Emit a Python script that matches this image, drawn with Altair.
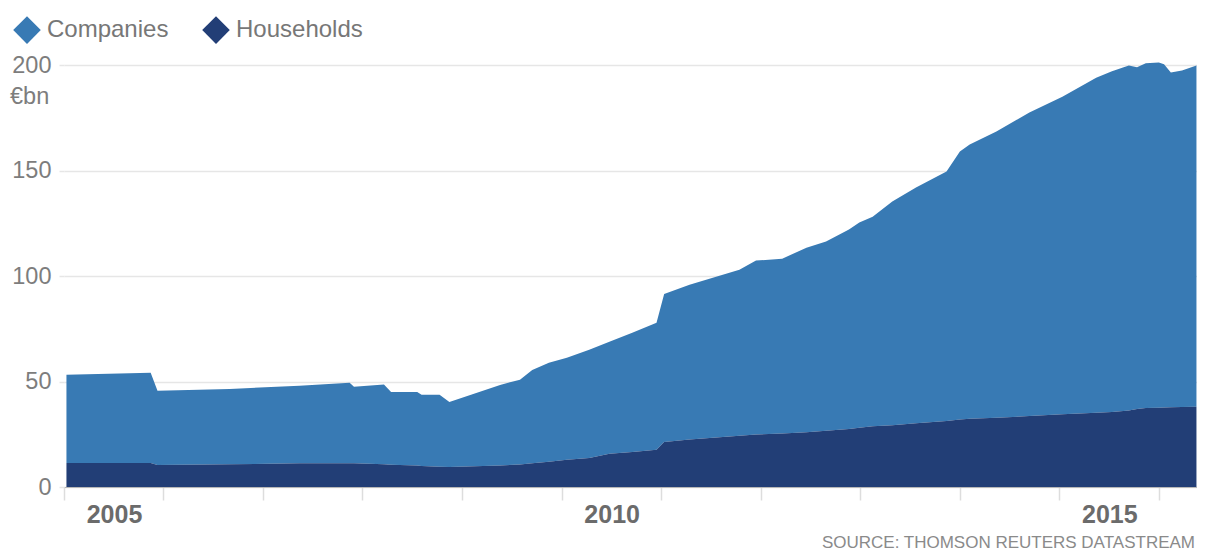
import altair as alt
import pandas as pd

dates = [
    "2005-01-10", "2005-11-15", "2005-12-10", "2006-09-01", "2007-05-15",
    "2007-11-15", "2007-12-01", "2008-03-20", "2008-04-15", "2008-07-20",
    "2008-08-05", "2008-10-10", "2008-11-15", "2009-05-20", "2009-08-01",
    "2009-09-15", "2009-11-15", "2010-01-20", "2010-04-12", "2010-06-25",
    "2010-09-17", "2010-12-15", "2011-01-12", "2011-04-15", "2011-10-15",
    "2011-12-15", "2012-03-20", "2012-06-17", "2012-08-28", "2012-11-20",
    "2012-12-28", "2013-02-15", "2013-04-28", "2013-07-24", "2013-11-13",
    "2014-01-01", "2014-02-06", "2014-05-15", "2014-09-13", "2015-01-12",
    "2015-05-16", "2015-07-13", "2015-09-13", "2015-10-13", "2015-11-14",
    "2016-01-01", "2016-01-20", "2016-02-14", "2016-03-26", "2016-05-18",
]

companies = [
    41.8, 42.7, 35.2, 35.7, 36.8,
    38.1, 36.3, 37.8, 34.4, 34.8,
    33.7, 34.1, 30.8, 38.2, 40.1,
    44.2, 46.9, 48.3, 51.2, 53.0,
    56.5, 60.2, 70.2, 73.4, 78.7,
    82.4, 82.8, 87.4, 89.7, 94.5,
    97.2, 99.3, 106.0, 111.7, 118.2,
    127.0, 130.0, 135.7, 143.9, 150.5,
    158.8, 161.4, 163.6, 161.9, 163.3,
    163.6, 162.6, 158.7, 159.5, 161.8,
]

households = [
    11.4, 11.4, 10.4, 10.8, 11.2,
    11.3, 11.2, 10.8, 10.6, 10.2,
    10.0, 9.6, 9.5, 10.2, 10.7,
    11.3, 12.0, 12.9, 13.8, 15.8,
    16.6, 17.6, 21.3, 22.5, 24.3,
    24.9, 25.4, 26.0, 26.6, 27.5,
    28.1, 28.8, 29.3, 30.2, 31.3,
    32.0, 32.3, 32.8, 33.6, 34.5,
    35.2, 35.6, 36.2, 37.0, 37.5,
    37.6, 37.7, 37.8, 37.9, 38.0,
]

series_names = ["Companies", "Households"]
series_colors = ["#387ab4", "#223e76"]
y_ticks = [0, 50, 100, 150, 200]
tick_years = list(range(2005, 2017))
unit_label = ["€bn"]
source_label = ["SOURCE: THOMSON REUTERS DATASTREAM"]

rows = []
for d, c, h in zip(dates, companies, households):
    rows.append({"date": d, "series": "Companies", "value": c, "stack": 1})
    rows.append({"date": d, "series": "Households", "value": h, "stack": 0})
df = pd.DataFrame(rows)

W, H = 1133, 422
FONT = "Liberation Sans"

x_scale = alt.Scale(
    type="utc",
    domain=[alt.DateTime(year=2005, month=1, date=1, utc=True),
            alt.DateTime(year=2016, month=5, date=20, utc=True)],
)

area = alt.Chart(df).mark_area(interpolate="linear", opacity=1).encode(
    x=alt.X(
        "date:T",
        scale=x_scale,
        title=None,
        axis=alt.Axis(
            values=[alt.DateTime(year=y, month=1, date=1, utc=True) for y in tick_years],
            labelExpr="utcyear(datum.value) % 5 == 0 ? utcFormat(datum.value, '%Y') : ''",
            labelOffset=50,
            labelFlush=False,
            labelFont=FONT,
            labelFontSize=25,
            labelFontWeight="bold",
            labelColor="#6b6b6b",
            labelPadding=2,
            tickSize=13,
            tickColor="#dddddd",
            tickWidth=1.5,
            domainColor="#b8b8b8",
            domainWidth=1,
            grid=False,
        ),
    ),
    y=alt.Y(
        "value:Q",
        stack="zero",
        scale=alt.Scale(domain=[0, 200], nice=False),
        title=None,
        axis=alt.Axis(
            values=y_ticks,
            labelFont=FONT,
            labelFontSize=23.5,
            labelColor="#7d7d7d",
            labelPadding=8,
            tickSize=5,
            tickColor="#e6e6e6",
            tickWidth=1.5,
            gridColor="#e6e6e6",
            gridWidth=1.5,
            domain=False,
        ),
    ),
    color=alt.Color(
        "series:N",
        scale=alt.Scale(domain=series_names, range=series_colors),
        legend=alt.Legend(
            title=None,
            orient="none",
            legendX=-51,
            legendY=-49,
            direction="horizontal",
            symbolType="diamond",
            symbolSize=760,
            symbolStrokeWidth=0,
            symbolOpacity=1,
            labelFont=FONT,
            labelFontSize=24,
            labelColor="#777777",
            labelOffset=6,
            columnPadding=33,
            padding=0,
        ),
    ),
    order=alt.Order("stack:Q", sort="ascending"),
)

unit = alt.Chart(pd.DataFrame({"t": unit_label})).mark_text(
    align="left", baseline="middle", font=FONT, fontSize=23.5, color="#7d7d7d"
).encode(text="t:N", x=alt.value(-54), y=alt.value(32))

source = alt.Chart(pd.DataFrame({"t": source_label})).mark_text(
    align="right", baseline="middle", font=FONT, fontSize=17, color="#8a8a8a"
).encode(text="t:N", x=alt.value(W - 2), y=alt.value(H + 56))

chart = alt.layer(area, unit, source).properties(
    width=W,
    height=H,
    autosize=alt.AutoSizeParams(type="none"),
    padding={"left": 56, "top": 57, "right": 0, "bottom": 67},
).configure_view(stroke=None)

chart.save("out.html", embed_options={"renderer": "svg", "actions": False})
